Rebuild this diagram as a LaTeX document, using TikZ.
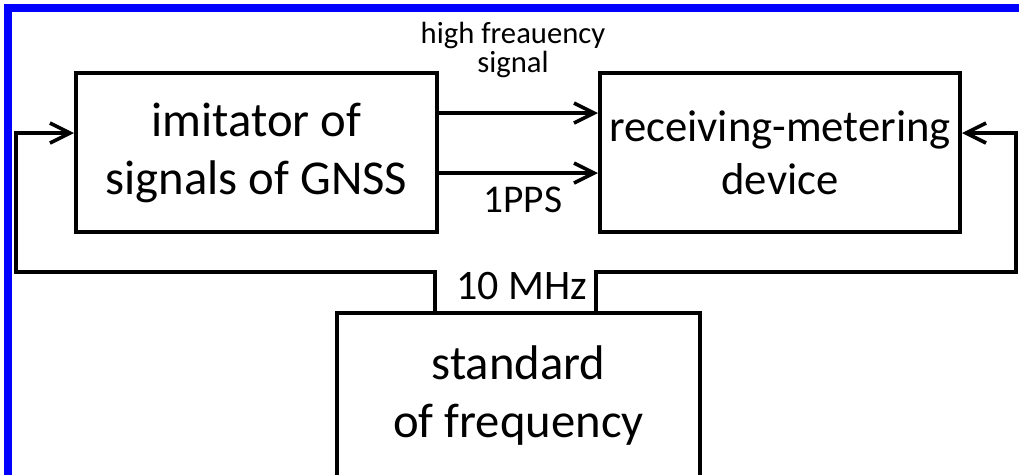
\documentclass[tikz,border=0pt]{standalone}
\usepackage{fontspec}
\setmainfont{Carlito}
\usetikzlibrary{arrows.meta,positioning}

\begin{document}
\begin{tikzpicture}[x=0.75pt, y=-0.75pt,
    block/.style={draw, line width=3pt, inner sep=0pt, align=center,
        font=\fontsize{36.5}{43.5}\selectfont},
    sig/.style={line width=2.7pt, -{Straight Barb[length=15pt,width=15pt]}},
    lbl/.style={inner sep=0pt, align=center}]

\useasboundingbox (0,0) rectangle (1019,474);
\draw[blue, line width=6pt] (8,490) -- (8,8) -- (1040,8);

\node[block, minimum width=270.75pt, minimum height=119.25pt] (imit) at (256.5,152.5)
    {imitator of\\signals of GNSS};
\node[block, minimum width=270pt, minimum height=119.25pt,
    font=\fontsize{33.5}{40}\selectfont] (recv) at (780,152.5)
    {receiving-metering\\device};
\node[block, minimum width=272.25pt, minimum height=123.75pt] (std) at (518.5,395.5)
    {standard\\of frequency};

\coordinate (lft) at (16,272);
\coordinate (rgt) at (1016,272);

\draw[sig] ([yshift=29.6pt]imit.east) -- ([yshift=29.6pt]recv.west);
\draw[sig] ([yshift=-15.4pt]imit.east) -- ([yshift=-15.4pt]recv.west);

\draw[sig] ([xshift=75pt]std.north west) |- (lft) |- ([yshift=14.6pt]imit.west);
\draw[sig] ([xshift=195.75pt]std.north west) |- (rgt) |- ([yshift=14.6pt]recv.east);

\node[lbl, font=\fontsize{23}{21.5}\selectfont] (hf) at (513,50) {high freauency\\signal};
\node[lbl, font=\fontsize{29.5}{30}\selectfont] (pps) at (523,200) {1PPS};
\node[lbl, font=\fontsize{31.5}{30}\selectfont] (ten) at (522,286) {10 MHz};

\end{tikzpicture}
\end{document}
